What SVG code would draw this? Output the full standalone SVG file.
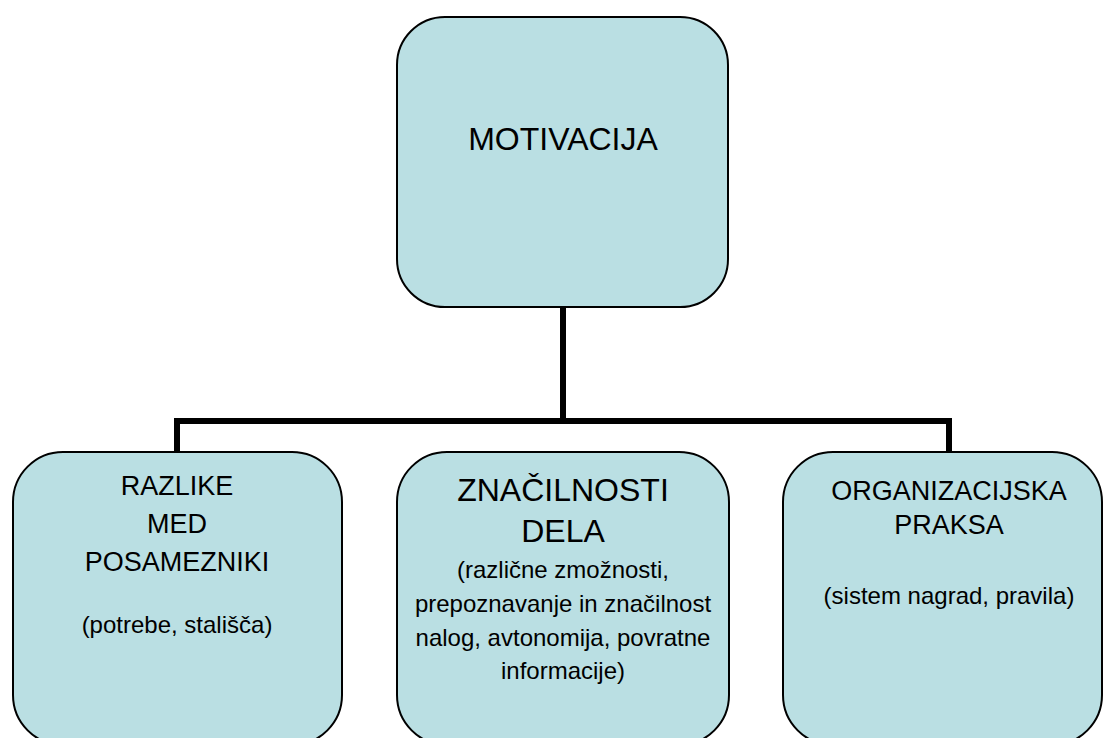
<svg xmlns="http://www.w3.org/2000/svg" width="1104" height="738" viewBox="0 0 1104 738">
<style>
.box{fill:#BADFE3;stroke:#000;stroke-width:2}
.conn{fill:none;stroke:#000;stroke-width:6}
text{font-family:"Liberation Sans",Arial,sans-serif;fill:#000;text-anchor:middle}
.big{font-size:32px}
.hd{font-size:27px}
.sub{font-size:24px}
</style>
<rect width="1104" height="738" fill="#fff"/>
<g id="connectors">
<path class="conn" d="M563,307 V421"/>
<path class="conn" d="M177,452 V421 H949 V452"/>
</g>
<g id="motivacija">
<rect class="box" x="397" y="17" width="331" height="290" rx="48"/>
<text class="big" x="563" y="150">MOTIVACIJA</text>
</g>
<g id="razlike">
<rect class="box" x="13" y="452" width="329" height="293" rx="50"/>
<text class="hd" x="177" y="495">RAZLIKE</text>
<text class="hd" x="177" y="533">MED</text>
<text class="hd" x="177" y="571">POSAMEZNIKI</text>
<text class="sub" x="177" y="633">(potrebe, stališča)</text>
</g>
<g id="znacilnosti">
<rect class="box" x="397" y="452" width="332" height="293" rx="50"/>
<text class="big" x="563" y="501">ZNAČILNOSTI</text>
<text class="big" x="563" y="542">DELA</text>
<text class="sub" x="563" y="578">(različne zmožnosti,</text>
<text class="sub" x="563" y="612">prepoznavanje in značilnost</text>
<text class="sub" x="563" y="646">nalog, avtonomija, povratne</text>
<text class="sub" x="563" y="679">informacije)</text>
</g>
<g id="organizacijska">
<rect class="box" x="783" y="452" width="319" height="293" rx="50"/>
<text class="hd" x="949" y="500">ORGANIZACIJSKA</text>
<text class="hd" x="949" y="534">PRAKSA</text>
<text class="sub" x="949" y="604">(sistem nagrad, pravila)</text>
</g>
</svg>
